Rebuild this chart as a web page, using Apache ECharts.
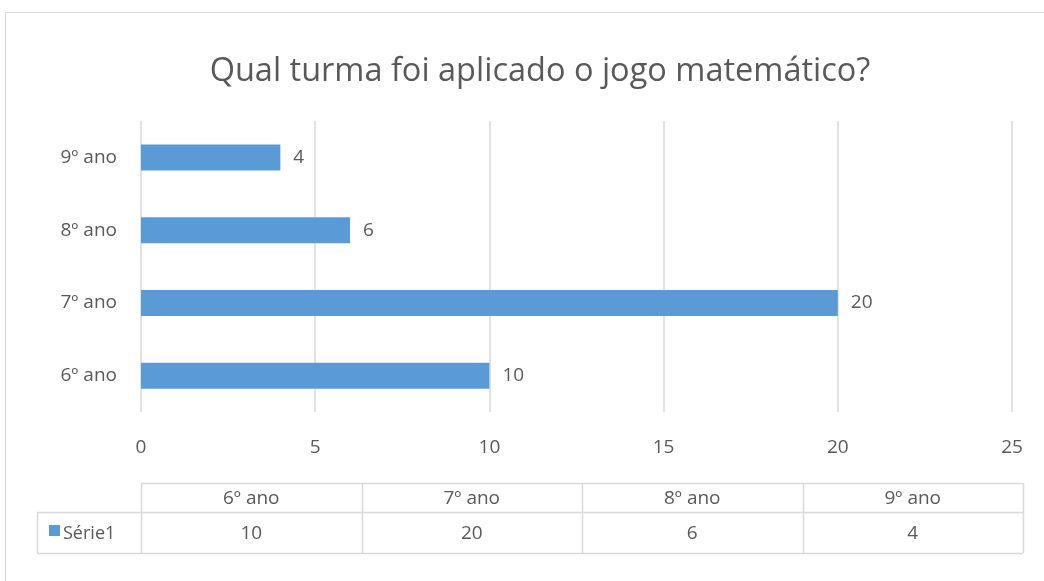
<!DOCTYPE html>
<html><head><meta charset="utf-8">
<script src="https://cdn.jsdelivr.net/npm/echarts@6/dist/echarts.min.js"></script>
<style>html,body{margin:0;padding:0;background:#fff}#c{width:1044px;height:581px}</style>
</head><body><div id="c"></div>
<script>
const titleText = 'Qual turma foi aplicado o jogo matemático?';
const categories = ['6º ano', '7º ano', '8º ano', '9º ano'];
const seriesName = 'Série1';
const values = [10, 20, 6, 4];
const xTicks = [0, 5, 10, 15, 20, 25];

const FONT = 'Open Sans';
const TXT = '#595959';
const LINE = '#d9d9d9';
const BAR = '#5B9BD5';

const chart = echarts.init(document.getElementById('c'), null, {renderer: 'canvas'});

// data table layout
const tX0 = 141, tX1 = 1023, tLegX = 37;
const tY0 = 483, tY1 = 512, tY2 = 553;
const colW = (tX1 - tX0) / categories.length;
const gfx = [];
gfx.push({type: 'rect', shape: {x: 5.5, y: 12.5, width: 1100, height: 600}, style: {fill: null, stroke: LINE, lineWidth: 1}, silent: true});
gfx.push({type: 'line', shape: {x1: tX0, y1: tY0 + .5, x2: tX1, y2: tY0 + .5}, style: {stroke: LINE, lineWidth: 1.5}});
gfx.push({type: 'line', shape: {x1: tLegX, y1: tY1 + .5, x2: tX1, y2: tY1 + .5}, style: {stroke: LINE, lineWidth: 1.5}});
gfx.push({type: 'line', shape: {x1: tLegX, y1: tY2 + .5, x2: tX1, y2: tY2 + .5}, style: {stroke: LINE, lineWidth: 1.5}});
gfx.push({type: 'line', shape: {x1: tLegX + .5, y1: tY1, x2: tLegX + .5, y2: tY2}, style: {stroke: LINE, lineWidth: 1.5}});
for (let i = 0; i <= categories.length; i++) {
  const x = Math.round(tX0 + i * colW) + .5;
  gfx.push({type: 'line', shape: {x1: x, y1: tY0, x2: x, y2: tY2}, style: {stroke: LINE, lineWidth: 1.5}});
}
categories.forEach((c, i) => {
  const cx = tX0 + (i + .5) * colW;
  gfx.push({type: 'text', x: cx, y: (tY0 + tY1) / 2 + 1, style: {text: c, fill: TXT, font: '19px ' + FONT, textAlign: 'center', textVerticalAlign: 'middle'}});
  gfx.push({type: 'text', x: cx, y: (tY1 + tY2) / 2 + 1, style: {text: String(values[i]), fill: TXT, font: '19px ' + FONT, textAlign: 'center', textVerticalAlign: 'middle'}});
});
gfx.push({type: 'rect', shape: {x: 49, y: 525, width: 11, height: 11}, style: {fill: BAR}});
gfx.push({type: 'text', x: 63, y: (tY1 + tY2) / 2 + 1, style: {text: seriesName, fill: TXT, font: '18px ' + FONT, textAlign: 'left', textVerticalAlign: 'middle'}});

chart.setOption({
  animation: false,
  backgroundColor: '#fff',
  textStyle: {fontFamily: FONT},
  title: {
    text: titleText, left: 535, top: 50, textAlign: 'center',
    textStyle: {fontFamily: FONT, fontSize: 32.5, fontWeight: 'normal', color: TXT}
  },
  grid: {left: 141, right: 32, top: 121, bottom: 169, containLabel: false},
  xAxis: {
    type: 'value', min: xTicks[0], max: xTicks[xTicks.length - 1], interval: 5,
    axisLine: {show: false}, axisTick: {show: false},
    axisLabel: {color: TXT, fontSize: 19, fontFamily: FONT, margin: 26},
    splitLine: {show: true, lineStyle: {color: LINE, width: 1.5}}
  },
  yAxis: {
    type: 'category', data: categories,
    axisLine: {show: false}, axisTick: {show: false},
    axisLabel: {color: TXT, fontSize: 19, fontFamily: FONT, margin: 24},
    splitLine: {show: false}
  },
  series: [{
    type: 'bar', name: seriesName, data: values, barWidth: 26,
    itemStyle: {color: BAR},
    label: {show: true, position: 'right', distance: 13, color: TXT, fontSize: 19, fontFamily: FONT}
  }],
  graphic: gfx
});
</script></body></html>
